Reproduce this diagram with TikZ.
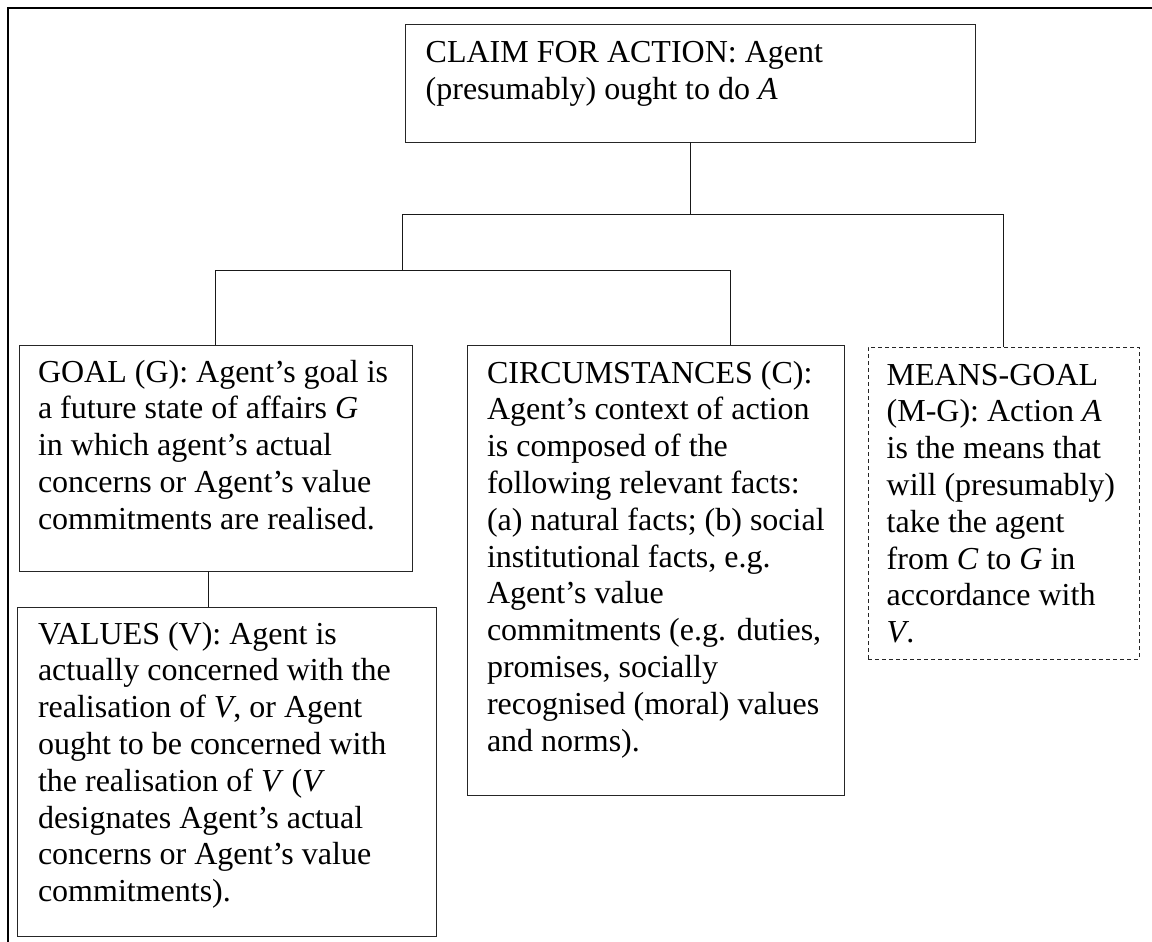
\documentclass[tikz,border=0pt]{standalone}
\usepackage{fontspec}
\setmainfont{Liberation Serif}
\begin{document}
\begin{tikzpicture}[x=1pt,y=-1pt,
  box/.style={draw=black!85, line width=0.9pt, inner sep=0pt, outer sep=0pt, anchor=north west},
  dbox/.style={box, dash pattern=on 4pt off 3pt},
  txt/.style={anchor=base west, inner sep=0pt, outer sep=0pt, font=\fontsize{32}{36.8}\selectfont},
  link/.style={draw=black!90, line width=0.9pt},
  frame/.style={draw=black, line width=1.6pt}]
\useasboundingbox (0,0) rectangle (1152,942);
% outer frame (top and left edges visible)
\draw[frame] (8,942) -- (8,8) -- (1152,8);
% boxes
\node[box, minimum width=570pt, minimum height=118pt] (claim) at (405,24) {};
\node[box, minimum width=393pt, minimum height=226pt] (goal) at (19,345) {};
\node[box, minimum width=419pt, minimum height=329pt] (values) at (17,607) {};
\node[box, minimum width=377pt, minimum height=450pt] (circ) at (467,345) {};
\node[dbox, minimum width=271pt, minimum height=312pt] (means) at (868,347) {};
% texts
\node[txt] (claimtext) at (425.7,63) {\parbox[t]{540pt}{CLAIM FOR ACTION: Agent\\(presumably) ought to do \textit{A}}};
\node[txt] (goaltext) at (38,382) {\parbox[t]{370pt}{GOAL (G): Agent’s goal is\\a future state of affairs \textit{G}\\in which agent’s actual\\concerns or Agent’s value\\commitments are realised.}};
\node[txt] (valuestext) at (38,644) {\parbox[t]{395pt}{VALUES (V): Agent is\\actually concerned with the\\realisation of \textit{V}, or Agent\\ought to be concerned with\\the realisation of \textit{V} (\textit{V}\\designates Agent’s actual\\concerns or Agent’s value\\commitments).}};
\node[txt] (circtext) at (487,383) {\parbox[t]{355pt}{CIRCUMSTANCES (C):\\Agent’s context of action\\is composed of the\\following relevant facts:\\(a) natural facts; (b) social\\institutional facts, e.g.\\Agent’s value\\commitments (e.g. duties,\\promises, socially\\recognised (moral) values\\and norms).}};
\node[txt] (meanstext) at (886.7,385) {\parbox[t]{250pt}{MEANS-GOAL\\(M-G): Action \textit{A}\\is the means that\\will (presumably)\\take the agent\\from \textit{C} to \textit{G} in\\accordance with\\\textit{V}.}};
% junction coordinates
\coordinate (h1l) at (402,214);
\coordinate (h1r) at (means.north |- h1l);
\coordinate (h2l) at (goal.north |- 0,270);
\coordinate (h2m) at (402,270);
\coordinate (h2r) at (730,270);
\coordinate (vx) at (208,0);
% connectors
\draw[link] (claim.south) -- (claim.south |- h1l);
\draw[link] (h1l) -- (h1r);
\draw[link] (h1r) -- (means.north);
\draw[link] (h1l) -- (h2m);
\draw[link] (h2l) -- (h2r);
\draw[link] (h2l) -- (goal.north);
\draw[link] (h2r) -- (h2r |- circ.north);
\draw[link] (vx |- goal.south) -- (vx |- values.north);
\end{tikzpicture}
\end{document}
